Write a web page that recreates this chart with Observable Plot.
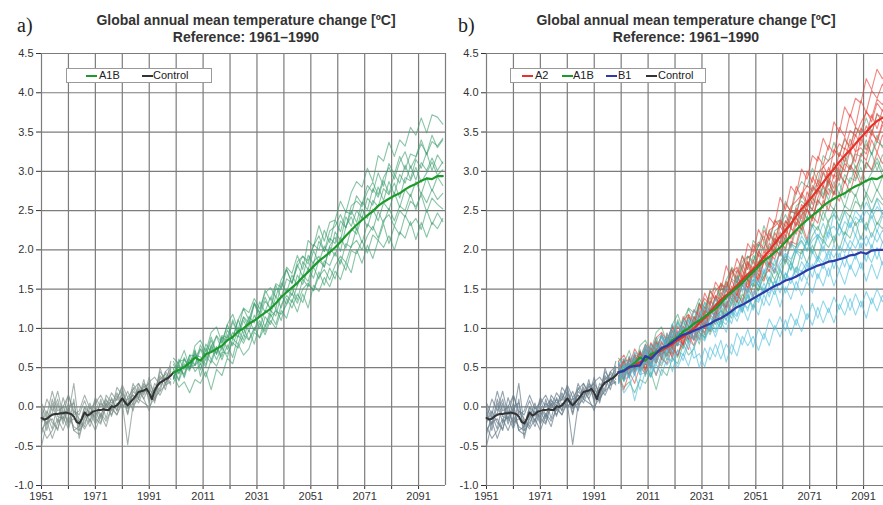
<!DOCTYPE html>
<html>
<head>
<meta charset="utf-8">
<script src="https://cdn.jsdelivr.net/npm/d3@7"></script>
<script src="https://cdn.jsdelivr.net/npm/@observablehq/plot@0.6"></script>
<style>
  html, body { margin:0; padding:0; background:#fff; }
  body { width:883px; height:505px; overflow:hidden; position:relative; font-family:"Liberation Sans", Arial, sans-serif; color:#222; }
  .abs { position:absolute; }
  .panel-label { font-family:"Liberation Serif","DejaVu Serif",serif; font-size:20px; line-height:1; }
  .title { font-weight:bold; font-size:14px; line-height:1; text-align:center; white-space:nowrap; color:#333; }
  .legend { border:1px solid #9a9a9a; background:#fff; height:15px; font-size:11px; color:#222; box-sizing:border-box; }
  .legend .sw { position:absolute; top:6px; width:11px; height:2px; }
  .legend .tx { position:absolute; top:0px; line-height:13px; white-space:nowrap; }
</style>
</head>
<body>
<script>
// ---------- tick / category arrays ----------
const gridYears = [1951,1961,1971,1981,1991,2001,2011,2021,2031,2041,2051,2061,2071,2081,2091,2101];
const tickYears = [1951,1961,1971,1981,1991,2001,2011,2021,2031,2041,2051,2061,2071,2081,2091];
const labelYears = [1951,1971,1991,2011,2031,2051,2071,2091];
const yTicks = [-1.0,-0.5,0.0,0.5,1.0,1.5,2.0,2.5,3.0,3.5,4.0,4.5];

const yearsControlMean = d3.range(1951, 2001);      // annual 1951-2000
const yearsControlMembers = d3.range(1951, 2000, 2); // 1951-1999, every 2nd year
const yearsScenario = d3.range(2000, 2101, 2);       // 2000-2100, every 2nd year

// ---------- ensemble means ----------
const controlMean = [-0.14,-0.16,-0.15,-0.12,-0.10,-0.09,-0.09,-0.08,-0.08,-0.07,
  -0.08,-0.09,-0.12,-0.19,-0.21,-0.15,-0.07,-0.11,-0.09,-0.06,
  -0.05,-0.04,-0.04,-0.03,-0.04,-0.04,0.01,0.00,0.02,0.06,
  0.11,0.06,0.02,0.06,0.10,0.14,0.19,0.20,0.21,0.23,
  0.18,0.10,0.21,0.27,0.31,0.33,0.35,0.37,0.40,0.44];
const a1bMean = [0.44,0.47,0.51,0.56,0.63, 0.59,0.67,0.70,0.74,0.78, 0.85,0.89,0.96,1.00,1.06,
  1.10,1.15,1.20,1.25,1.32, 1.40,1.46,1.52,1.58,1.65, 1.72,1.79,1.86,1.91,1.97,
  2.03,2.10,2.18,2.25,2.32, 2.38,2.44,2.49,2.56,2.61, 2.65,2.69,2.72,2.77,2.81,
  2.84,2.88,2.91,2.90,2.94, 2.94];
const a2Mean = [0.44,0.46,0.50,0.53,0.57, 0.60,0.64,0.69,0.72,0.76, 0.80,0.85,0.89,0.95,1.00,
  1.07,1.13,1.21,1.29,1.36, 1.42,1.48,1.55,1.62,1.69, 1.75,1.82,1.91,1.99,2.08,
  2.17,2.25,2.33,2.43,2.52, 2.60,2.68,2.77,2.86,2.95, 3.03,3.12,3.20,3.27,3.35,
  3.43,3.50,3.58,3.64,3.68, 3.71];
const b1Mean = [0.44,0.46,0.51,0.52,0.53, 0.65,0.61,0.68,0.75,0.78, 0.82,0.88,0.92,0.94,0.97,
  1.00,1.03,1.06,1.10,1.13, 1.17,1.22,1.27,1.30,1.34, 1.38,1.42,1.46,1.50,1.54,
  1.57,1.61,1.63,1.66,1.70, 1.74,1.77,1.80,1.82,1.85, 1.86,1.88,1.90,1.93,1.94,
  1.97,1.95,1.99,2.00,2.00, 2.01];

// ---------- ensemble members ----------
const controlMembers = [
  [-0.02,-0.30,0.05,-0.20,0.12, -0.10,0.30,-0.25,0.00,-0.18, 0.10,-0.12,0.08,0.02,0.18, 0.05,0.20,0.02,0.30,0.15, 0.38,0.10,0.50,0.28,0.58],
  [-0.35,-0.10,-0.28,0.05,-0.22, -0.02,-0.30,-0.35,-0.15,0.05, -0.20,0.10,-0.15,0.12,-0.05, 0.22,-0.08,0.25,0.10,0.35, 0.05,0.30,0.20,0.45,0.35],
  [-0.50,-0.20,-0.15,-0.30,0.02, -0.25,0.10,-0.40,-0.10,-0.25, -0.05,-0.20,0.05,-0.12,0.15, -0.02,0.12,-0.05,0.22,0.10, 0.28,0.05,0.38,0.22,0.48],
  [-0.15,0.10,-0.05,0.20,-0.10, 0.15,-0.05,-0.10,0.08,-0.12, 0.12,0.00,0.10,-0.05,0.25, 0.15,-0.10,0.20,0.12,0.30, 0.22,0.15,0.35,0.42,0.30],
  [-0.25,-0.40,-0.30,-0.15,-0.30, -0.12,-0.25,-0.30,-0.20,-0.05, -0.22,-0.08,-0.18,-0.02,-0.10, 0.05,-0.48,0.02,0.10,0.05, 0.00,0.12,0.20,0.28,0.32],
  [0.05,-0.10,0.20,-0.05,0.00, 0.15,-0.10,-0.05,0.15,-0.02, 0.05,0.15,0.00,0.18,0.08, 0.28,0.12,0.22,0.30,0.18, 0.32,0.38,0.28,0.45,0.52],
  [-0.20,-0.05,-0.20,-0.28,-0.05, -0.20,-0.15,-0.18,-0.28,-0.15, -0.30,-0.10,-0.25,0.00,-0.10, 0.10,-0.02,0.05,0.25,0.10, -0.05,0.25,0.15,0.30,0.42],
  [-0.10,-0.22,0.10,-0.12,-0.15, 0.05,-0.30,-0.25,0.00,-0.08, -0.12,0.05,-0.02,0.10,-0.05, 0.18,0.05,0.15,0.10,0.28, 0.10,0.20,0.40,0.30,0.45],
  [-0.30,-0.18,-0.40,-0.20,-0.12, -0.28,-0.05,-0.15,-0.25,0.00, -0.15,-0.22,0.05,-0.10,0.05, 0.00,0.10,0.15,0.05,0.22, 0.15,0.08,0.25,0.38,0.28],
  [0.00,-0.15,-0.08,0.10,-0.18, 0.00,0.05,-0.30,-0.05,-0.20, 0.02,-0.15,0.15,0.05,0.10, 0.25,0.00,0.30,0.15,0.25, 0.30,0.18,0.45,0.35,0.50]
];
const a1bMembers = [
  [0.54,0.42,0.63,0.48,0.68, 0.54,0.80,0.70,0.91,0.81, 1.05,0.87,1.11,1.25,1.11, 1.33,1.20,1.49,1.36,1.57, 1.52,1.78,1.70,1.93,1.75, 2.12,2.04,2.31,2.11,2.35, 2.38,2.62,2.48,2.73,2.87, 2.80,3.04,2.87,3.20,3.13, 3.37,3.19,3.40,3.32,3.56, 3.46,3.68,3.49,3.72,3.69, 3.60],
  [0.36,0.61,0.48,0.66,0.53, 0.79,0.64,0.85,0.67,0.91, 0.88,1.11,0.94,1.14,1.02, 1.32,1.19,1.40,1.23,1.50, 1.50,1.75,1.57,1.79,1.92, 1.82,2.07,2.00,2.25,2.09, 2.38,2.23,2.49,2.45,2.69, 2.58,2.82,2.73,2.98,2.81, 3.10,2.96,3.19,3.02,3.22, 3.19,3.40,3.21,3.38,3.32, 3.42],
  [0.49,0.35,0.61,0.51,0.53, 0.73,0.59,0.77,0.90,0.72, 0.98,0.87,1.11,0.93,1.15, 1.07,1.34,1.21,1.40,1.25, 1.58,1.46,1.68,1.54,1.85, 1.75,1.99,1.84,2.05,1.93, 2.23,2.12,2.42,2.30,2.50, 2.40,2.66,2.57,2.80,2.63, 2.87,2.71,2.96,2.85,3.07, 2.89,3.11,3.01,3.17,3.01, 3.12],
  [0.36,0.53,0.39,0.66,0.65, 0.64,0.54,0.79,0.67,0.89, 0.73,0.95,0.89,1.10,0.96, 1.17,1.00,1.23,1.17,1.41, 1.26,1.50,1.42,1.68,1.56, 1.77,1.64,1.87,1.78,2.04, 1.92,2.16,2.02,2.27,2.20, 2.43,2.29,2.52,2.37,2.60, 2.51,2.73,2.54,2.77,2.68, 2.87,2.71,2.92,2.75,2.93, 2.82],
  [0.58,0.43,0.55,0.48,0.73, 0.47,0.75,0.60,0.77,0.64, 0.92,0.78,0.99,0.85,1.11, 0.97,1.19,1.02,1.23,1.16, 1.42,1.31,1.52,1.36,1.63, 1.53,1.78,1.63,1.86,1.80, 1.97,1.82,2.08,2.03,2.28, 2.09,2.33,2.25,2.49,2.34, 2.53,2.37,2.56,2.50,2.71, 2.51,2.73,2.60,2.77,2.64, 2.72],
  [0.37,0.55,0.37,0.60,0.53, 0.61,0.51,0.76,0.60,0.77, 0.63,0.87,0.80,1.00,0.86, 1.01,0.88,1.15,1.05,1.25, 1.10,1.38,1.26,1.44,1.33, 1.56,1.48,1.72,1.55,1.77, 1.63,1.88,1.74,1.99,1.95, 2.12,1.96,2.19,2.12,2.33, 2.08,2.30,2.19,2.44,2.31, 2.40,2.26,2.51,2.32,2.47, 2.36],
  [0.48,0.33,0.52,0.46,0.71, 0.39,0.65,0.56,0.76,0.60, 0.79,0.63,0.92,0.81,0.98, 0.80,1.07,0.92,1.10,1.00, 1.23,1.13,1.37,1.21,1.44, 1.26,1.55,1.47,1.65,1.53, 1.73,1.62,1.84,1.71,2.00, 1.83,2.06,1.89,2.12,2.03, 2.18,2.00,2.23,2.15,2.36, 2.13,2.35,2.16,2.35,2.27, 2.40],
  [0.35,0.58,0.60,0.49,0.62, 0.74,0.66,0.89,0.69,0.89, 0.84,1.08,0.93,1.15,1.07, 1.31,1.14,1.35,1.26,1.55, 1.39,1.63,1.58,1.81,1.66, 1.93,1.82,2.11,1.98,2.15, 2.08,2.37,2.28,2.50,2.35, 2.61,2.51,2.78,2.67,2.88, 2.72,2.96,2.85,3.08,2.90, 3.15,3.04,3.24,3.01,3.21, 3.10],
  [0.40,0.25,0.32,0.18,0.35, 0.30,0.45,0.22,0.48,0.40, 0.62,0.55,0.80,0.66,0.74, 0.95,0.88,1.02,1.18,1.05, 1.30,1.42,1.33,1.55,1.68, 1.60,1.85,1.92,1.78,2.05, 2.16,1.98,2.30,2.42,2.25, 2.52,2.40,2.63,2.55,2.78, 2.70,2.85,2.66,2.92,2.88, 3.05,2.86,2.98,3.12,2.95, 3.02],
  [0.62,0.55,0.72,0.50,0.78, 0.85,0.70,0.95,1.02,0.82, 1.05,1.18,0.98,1.26,1.20, 1.38,1.25,1.45,1.52,1.40, 1.62,1.75,1.58,1.85,1.92, 1.86,2.05,2.18,1.98,2.24, 2.30,2.45,2.28,2.56,2.62, 2.55,2.74,2.86,2.70,2.92, 3.05,2.90,3.12,3.25,3.04, 3.18,3.35,3.22,3.46,3.30, 3.40],
  [0.30,0.48,0.42,0.62,0.45, 0.55,0.38,0.60,0.52,0.70, 0.68,0.82,0.75,0.92,0.85, 0.98,1.10,0.96,1.15,1.22, 1.18,1.30,1.45,1.32,1.50, 1.58,1.48,1.66,1.75,1.62, 1.80,1.92,1.84,2.05,2.12, 2.00,2.18,2.30,2.15,2.38, 2.45,2.30,2.50,2.42,2.62, 2.55,2.70,2.48,2.66,2.58, 2.52]
];
const a2Members = [
  [0.54,0.38,0.64,0.48,0.69, 0.56,0.82,0.69,0.93,0.74, 1.02,0.85,1.15,1.02,1.24, 1.15,1.45,1.31,1.59,1.48, 1.80,1.62,1.89,1.74,2.08, 1.97,2.26,2.11,2.41,2.32, 2.67,2.51,2.81,2.71,3.03, 2.90,3.20,3.13,3.42,3.27, 3.63,3.50,3.82,3.69,3.93, 3.87,4.18,4.04,4.30,4.18, 4.25],
  [0.34,0.58,0.45,0.68,0.47, 0.76,0.60,0.83,0.64,0.94, 0.76,1.03,0.91,1.17,0.98, 1.31,1.15,1.48,1.35,1.58, 1.46,1.76,1.63,1.92,1.75, 2.07,1.92,2.25,2.13,2.38, 2.29,2.59,2.49,2.81,2.66, 3.00,2.86,3.19,3.08,3.33, 3.23,3.56,3.44,3.73,3.57, 3.90,3.75,4.03,3.93,4.11, 4.00],
  [0.50,0.34,0.60,0.45,0.71, 0.54,0.76,0.59,0.82,0.73, 0.97,0.78,0.98,0.86,1.15, 1.04,1.28,1.14,1.42,1.36, 1.60,1.44,1.75,1.62,1.85, 1.71,1.98,1.89,2.21,2.08, 2.36,2.22,2.50,2.46,2.73, 2.61,2.93,2.80,3.07,2.94, 3.28,3.19,3.43,3.28,3.56, 3.50,3.77,3.63,3.87,3.77, 3.88],
  [0.39,0.56,0.38,0.59,0.69, 0.48,0.72,0.63,0.84,0.66, 0.90,0.79,1.03,0.85,1.08, 0.95,1.23,1.16,1.41,1.26, 1.50,1.36,1.65,1.56,1.83, 1.65,1.94,1.85,2.09,1.96, 2.31,2.17,2.43,2.31,2.58, 2.50,2.80,2.71,3.00,2.85, 3.11,3.00,3.30,3.22,3.47, 3.33,3.58,3.46,3.74,3.62, 3.72],
  [0.56,0.40,0.55,0.41,0.65, 0.68,0.50,0.73,0.62,0.86, 0.67,0.94,0.80,1.02,0.85, 1.16,1.00,1.26,1.12,1.37, 1.26,1.54,1.41,1.66,1.51, 1.79,1.68,1.93,1.81,2.14, 2.00,2.28,2.14,2.40,2.31, 2.59,2.51,2.78,2.65,2.92, 2.78,3.09,3.01,3.26,3.12, 3.42,3.27,3.53,3.37,3.59, 3.50],
  [0.32,0.54,0.48,0.65,0.47, 0.71,0.51,0.74,0.63,0.83, 0.62,0.89,0.78,1.01,0.86, 1.08,0.92,1.26,1.14,1.37, 1.22,1.48,1.33,1.56,1.45, 1.74,1.59,1.86,1.72,2.01, 1.93,2.19,2.05,2.35,2.26, 2.51,2.37,2.64,2.53,2.88, 2.70,2.99,2.85,3.08,2.98, 3.23,3.14,3.40,3.24,3.46, 3.38],
  [0.52,0.36,0.62,0.45,0.61, 0.45,0.71,0.56,0.77,0.65, 0.82,0.65,0.87,0.73,1.00, 0.86,1.10,0.96,1.22,1.09, 1.34,1.22,1.45,1.32,1.63, 1.40,1.69,1.60,1.84,1.71, 1.99,1.85,2.11,2.07,2.34, 2.13,2.43,2.34,2.63,2.50, 2.75,2.62,2.88,2.73,2.99, 2.83,3.12,3.02,3.24,3.10, 3.22],
  [0.46,0.60,0.40,0.63,0.51, 0.72,0.54,0.83,0.64,0.86, 0.74,0.97,0.79,1.03,0.88, 1.21,1.05,1.31,1.17,1.46, 1.36,1.62,1.45,1.74,1.61, 1.87,1.72,1.99,1.87,2.22, 2.09,2.37,2.27,2.53,2.40, 2.74,2.58,2.89,2.80,3.05, 2.91,3.24,3.12,3.41,3.25, 3.55,3.44,3.72,3.54,3.78, 3.70],
  [0.38,0.22,0.45,0.30,0.52, 0.42,0.58,0.40,0.62,0.55, 0.75,0.66,0.82,0.92,0.78, 1.02,0.95,1.18,1.10,1.30, 1.28,1.45,1.38,1.60,1.52, 1.70,1.62,1.85,1.96,1.88, 2.10,2.02,2.28,2.20,2.45, 2.52,2.40,2.66,2.82,2.70, 2.96,2.88,3.10,3.02,3.25, 3.30,3.22,3.48,3.40,3.62, 3.55],
  [0.58,0.66,0.52,0.74,0.62, 0.80,0.68,0.88,0.95,0.84, 1.02,0.92,1.10,1.18,1.08, 1.25,1.38,1.30,1.48,1.55, 1.52,1.70,1.78,1.65,1.90, 1.95,2.10,2.02,2.25,2.30, 2.38,2.30,2.55,2.62,2.70, 2.82,2.75,2.98,3.05,3.14, 3.20,3.35,3.28,3.52,3.45, 3.62,3.75,3.68,3.92,3.85, 3.98]
];
const b1Members = [
  [0.54,0.38,0.65,0.46,0.65, 0.61,0.79,0.68,0.91,0.76, 1.06,0.90,1.12,0.94,1.23, 1.10,1.33,1.14,1.38,1.25, 1.53,1.36,1.65,1.46,1.68, 1.56,1.82,1.70,1.92,1.74, 2.01,1.85,2.09,1.96,2.18, 2.06,2.31,2.14,2.34,2.15, 2.48,2.28,2.48,2.29,2.50, 2.41,2.61,2.47,2.64,2.46, 2.58],
  [0.32,0.56,0.45,0.66,0.45, 0.79,0.53,0.80,0.69,0.94, 0.82,1.08,0.90,1.10,0.93, 1.24,1.09,1.28,1.10,1.33, 1.23,1.50,1.37,1.56,1.38, 1.70,1.54,1.76,1.60,1.88, 1.73,1.95,1.75,1.98,1.88, 2.14,1.95,2.16,1.98,2.23, 2.12,2.32,2.12,2.35,2.18, 2.44,2.24,2.44,2.23,2.43, 2.34],
  [0.49,0.32,0.59,0.42,0.65, 0.55,0.71,0.64,0.89,0.70, 0.95,0.79,1.01,0.89,1.12, 0.95,1.16,0.99,1.25,1.12, 1.35,1.18,1.41,1.24,1.50, 1.40,1.62,1.44,1.66,1.50, 1.76,1.62,1.84,1.65,1.85, 1.73,1.98,1.85,2.05,1.86, 2.07,1.89,2.13,2.00,2.19, 2.02,2.18,2.02,2.25,2.10, 2.20],
  [0.36,0.52,0.37,0.60,0.41, 0.73,0.51,0.80,0.67,0.88, 0.70,0.96,0.86,1.06,0.87, 1.12,0.93,1.14,0.98,1.23, 1.11,1.34,1.17,1.38,1.22, 1.48,1.36,1.58,1.40,1.62, 1.45,1.71,1.57,1.78,1.60, 1.82,1.65,1.90,1.76,1.97, 1.76,1.96,1.78,2.03,1.88, 2.09,1.85,2.07,1.88,2.10, 2.02],
  [0.56,0.40,0.55,0.40,0.61, 0.56,0.72,0.57,0.80,0.65, 0.92,0.78,1.00,0.82,1.01, 0.85,1.10,0.97,1.19,1.00, 1.21,1.06,1.33,1.20,1.42, 1.23,1.45,1.29,1.55,1.43, 1.63,1.45,1.65,1.48,1.74, 1.61,1.82,1.63,1.83,1.66, 1.88,1.74,1.94,1.75,1.94, 1.76,1.96,1.84,2.03,1.81, 1.92],
  [0.30,0.54,0.41,0.62,0.47, 0.72,0.46,0.71,0.64,0.87, 0.66,0.90,0.74,0.98,0.85, 1.03,0.86,1.07,0.89,1.10, 0.95,1.22,1.09,1.28,1.10, 1.31,1.17,1.43,1.29,1.49, 1.27,1.53,1.37,1.60,1.42, 1.60,1.45,1.70,1.54,1.77, 1.54,1.74,1.56,1.81,1.66, 1.84,1.60,1.82,1.63,1.85, 1.76],
  [0.50,0.34,0.40,0.08,0.36, 0.65,0.39,0.66,0.55,0.74, 0.45,0.73,0.59,0.81,0.62, 0.68,0.51,0.76,0.64,0.85, 0.57,0.80,0.65,0.90,0.78, 0.90,0.72,0.94,0.78,1.04, 0.89,1.11,0.91,1.12,0.96, 1.19,1.04,1.27,1.07,1.26, 1.07,1.31,1.17,1.38,1.17, 1.35,1.13,1.39,1.22,1.42, 1.30],
  [0.38,0.54,0.37,0.56,0.41, 0.44,0.56,0.41,0.68,0.53, 0.64,0.50,0.68,0.52,0.77, 0.50,0.75,0.60,0.80,0.61, 0.80,0.67,0.94,0.79,0.99, 0.76,1.00,0.86,1.12,0.98, 1.15,0.97,1.19,1.04,1.30, 1.11,1.32,1.13,1.35,1.20, 1.40,1.24,1.42,1.23,1.44, 1.27,1.47,1.31,1.50,1.34, 1.45],
  [0.35,0.18,0.28,0.42,0.22, 0.45,0.38,0.55,0.40,0.62, 0.58,0.72,0.66,0.85,0.78, 0.92,0.84,1.02,0.95,1.10, 1.05,1.22,1.15,1.32,1.26, 1.40,1.33,1.52,1.45,1.60, 1.55,1.70,1.62,1.78,1.72, 1.85,1.76,1.92,1.84,2.00, 1.90,2.05,1.96,2.12,2.02, 2.18,2.05,2.22,2.10,2.25, 2.15],
  [0.55,0.62,0.48,0.70,0.64, 0.78,0.70,0.85,0.92,0.80, 0.98,0.90,1.06,1.12,1.02, 1.15,1.25,1.18,1.32,1.28, 1.40,1.35,1.50,1.58,1.46, 1.62,1.55,1.72,1.80,1.70, 1.85,1.96,1.88,2.02,2.10, 1.98,2.12,2.20,2.08,2.25, 2.30,2.18,2.36,2.28,2.42, 2.35,2.50,2.40,2.55,2.46, 2.48]
];

// ---------- colours ----------
const colControlMemberA = "#768a83";
const colControlMemberB = "#687d8c";
const colControlMean = "#333333";
const colA1BMember = "#3a9c6c";
const colA1BMean = "#1c9a2a";
const colA2Member = "#e8463c";
const colA2Mean = "#e5322a";
const colB1Member = "#48bcdc";
const colB1Mean = "#2e3aa6";

// ---------- helpers ----------
function rows(years, values, id) {
  return values.map((v, i) => ({year: years[i], value: v, id}));
}
function memberRows(years, members, prefix) {
  return members.flatMap((m, k) => rows(years, m, prefix + k));
}

const ctrlM = memberRows(yearsControlMembers, controlMembers, "c");
const a1bM = memberRows(yearsScenario, a1bMembers, "g");
const a2M = memberRows(yearsScenario, a2Members, "r");
const b1M = memberRows(yearsScenario, b1Members, "b");
const ctrlMean = rows(yearsControlMean, controlMean, "cm");
const a1bMn = rows(yearsScenario, a1bMean, "gm");
const a2Mn = rows(yearsScenario, a2Mean, "rm");
const b1Mn = rows(yearsScenario, b1Mean, "bm");

function frameMarks() {
  return [
    Plot.ruleX(gridYears, {stroke: "#7c7c7c", strokeWidth: 1.2}),
    Plot.ruleY(yTicks, {stroke: "#7c7c7c", strokeWidth: 1.2})
  ];
}
function lineMarks(data, stroke, opacity, width) {
  return Plot.line(data, {x: "year", y: "value", z: "id", stroke, strokeOpacity: opacity, strokeWidth: width, strokeLinejoin: "round"});
}

function makePanel(width, marginLeft, marginRight, marks) {
  return Plot.plot({
    width, height: 460,
    marginLeft, marginRight, marginTop: 8, marginBottom: 20,
    style: {fontSize: "11px", fontFamily: "Liberation Sans, Arial, sans-serif", color: "#333", background: "transparent", overflow: "visible"},
    x: {domain: [1951, 2101], ticks: tickYears, tickFormat: d => labelYears.includes(d) ? String(d) : "", tickSize: 4, tickPadding: 3, label: null},
    y: {domain: [-1, 4.5], ticks: yTicks, tickFormat: d => d.toFixed(1), tickSize: 5, tickPadding: 3, label: null},
    marks
  });
}

const panelA = makePanel(450, 41, 5, [
  ...frameMarks(),
  lineMarks(ctrlM, colControlMemberA, 0.65, 1.1),
  lineMarks(a1bM, colA1BMember, 0.6, 1.1),
  lineMarks(ctrlMean, colControlMean, 1, 2),
  lineMarks(a1bMn, colA1BMean, 1, 2.2)
]);

const panelB = makePanel(448, 44, 0, [
  ...frameMarks(),
  lineMarks(ctrlM, colControlMemberB, 0.7, 1.1),
  lineMarks(a1bM, colA1BMember, 0.55, 1.1),
  lineMarks(a2M, colA2Member, 0.65, 1.1),
  lineMarks(b1M, colB1Member, 0.6, 1.1),
  lineMarks(ctrlMean, colControlMean, 1, 2),
  lineMarks(a2Mn, colA2Mean, 1, 2.2),
  lineMarks(a1bMn, colA1BMean, 1, 2.2),
  lineMarks(b1Mn, colB1Mean, 1, 2.2)
]);

function place(el, left, top, parent = document.body) {
  el.classList.add("abs");
  el.style.left = left + "px";
  el.style.top = top + "px";
  parent.appendChild(el);
  return el;
}
place(panelA, 0, 45);
place(panelB, 442, 45);

function div(cls, html, left, top, width, parent) {
  const d = document.createElement("div");
  d.className = cls;
  d.innerHTML = html;
  if (width != null) d.style.width = width + "px";
  return place(d, left, top, parent);
}

// panel labels and titles
div("panel-label", "a)", 17, 15);
div("panel-label", "b)", 458, 15);
div("title", "Global annual mean temperature change [ºC]", 96, 13, 300);
div("title", "Reference: 1961–1990", 96, 30, 300);
div("title", "Global annual mean temperature change [ºC]", 536, 13, 300);
div("title", "Reference: 1961–1990", 536, 30, 300);

// legends: [colour, label, swatch offset, text offset]
function legend(items, left, width) {
  const box = div("legend", "", left, 68, width);
  for (const [c, t, sx, tx] of items) {
    const sw = div("sw", "", sx, 6, null, box);
    sw.style.background = c;
    div("tx", t, tx, 0, null, box);
  }
}
legend([[colA1BMean, "A1B", 19, 32], [colControlMean, "Control", 75, 86]], 66, 146);
legend([[colA2Mean, "A2", 11, 24], [colA1BMean, "A1B", 51, 62], [colB1Mean, "B1", 95, 107], [colControlMean, "Control", 135, 147]], 510, 196);
</script>
</body>
</html>
